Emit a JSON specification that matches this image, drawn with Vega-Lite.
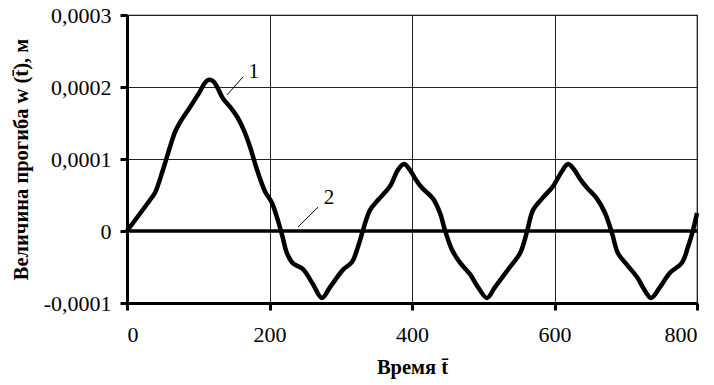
{
  "$schema": "https://vega.github.io/schema/vega-lite/v6.json",
  "width": 570,
  "height": 288,
  "autosize": {"type": "none"},
  "padding": {"left": 127, "top": 15, "right": 17, "bottom": 82},
  "background": "white",
  "config": {
    "view": {"stroke": "#000", "strokeWidth": 1.2},
    "font": "Liberation Serif",
    "text": {"font": "Liberation Serif"},
    "axis": {
      "labelFont": "Liberation Serif",
      "titleFont": "Liberation Serif",
      "labelFontSize": 22,
      "labelColor": "#000",
      "titleColor": "#000",
      "titleFontSize": 20.5,
      "titleFontWeight": "bold",
      "domainColor": "#000",
      "domainWidth": 3,
      "tickColor": "#000",
      "tickWidth": 3,
      "tickSize": 7,
      "gridColor": "#222",
      "gridWidth": 1,
      "gridOpacity": 1
    }
  },
  "datasets": {
    "curve1": [
      {"t": 0, "w": 0},
      {"t": 32.3, "w": 0.000043},
      {"t": 39.3, "w": 0.000053},
      {"t": 50.5, "w": 0.000085},
      {"t": 60.4, "w": 0.000117},
      {"t": 67.4, "w": 0.0001375},
      {"t": 74.4, "w": 0.000151},
      {"t": 88.4, "w": 0.000172},
      {"t": 102.5, "w": 0.000194},
      {"t": 109.5, "w": 0.000206},
      {"t": 115.1, "w": 0.00021},
      {"t": 121, "w": 0.000208},
      {"t": 127, "w": 0.000199},
      {"t": 134.7, "w": 0.000184},
      {"t": 145, "w": 0.000172},
      {"t": 155, "w": 0.000158},
      {"t": 164, "w": 0.00014},
      {"t": 172.6, "w": 0.000117},
      {"t": 182.5, "w": 0.000085},
      {"t": 193.7, "w": 0.000055},
      {"t": 203.5, "w": 0.000039},
      {"t": 210.5, "w": 0.000019},
      {"t": 217.5, "w": -0.000005},
      {"t": 224.6, "w": -0.000031},
      {"t": 233, "w": -0.000045},
      {"t": 247, "w": -0.000053},
      {"t": 261, "w": -0.000074},
      {"t": 273.7, "w": -0.000093},
      {"t": 285, "w": -0.000078},
      {"t": 303, "w": -0.000054},
      {"t": 315.8, "w": -0.000043},
      {"t": 324.2, "w": -0.000022},
      {"t": 331.2, "w": 0.000001},
      {"t": 341, "w": 0.000029},
      {"t": 352.3, "w": 0.000043},
      {"t": 369.1, "w": 0.000062},
      {"t": 380.3, "w": 0.000085},
      {"t": 388.8, "w": 0.000093},
      {"t": 397, "w": 0.000085},
      {"t": 405, "w": 0.000072},
      {"t": 414, "w": 0.00006},
      {"t": 429.5, "w": 0.000045},
      {"t": 439.3, "w": 0.000025},
      {"t": 446.3, "w": 0.000001},
      {"t": 456.1, "w": -0.000026},
      {"t": 467.4, "w": -0.000044},
      {"t": 481.4, "w": -0.00006},
      {"t": 492.6, "w": -0.000078},
      {"t": 505.3, "w": -0.000093},
      {"t": 516.5, "w": -0.000078},
      {"t": 537.5, "w": -0.00005},
      {"t": 551.6, "w": -0.000031},
      {"t": 561.4, "w": -0.000001},
      {"t": 569.8, "w": 0.000029},
      {"t": 582.5, "w": 0.000045},
      {"t": 597.9, "w": 0.000062},
      {"t": 610.5, "w": 0.000083},
      {"t": 619, "w": 0.000093},
      {"t": 627, "w": 0.000086},
      {"t": 636, "w": 0.000072},
      {"t": 645.6, "w": 0.00006},
      {"t": 659.6, "w": 0.000045},
      {"t": 670.9, "w": 0.000025},
      {"t": 680.7, "w": -0.000003},
      {"t": 689.1, "w": -0.000031},
      {"t": 701.8, "w": -0.000047},
      {"t": 715.8, "w": -0.000064},
      {"t": 724, "w": -0.000078},
      {"t": 735.4, "w": -0.000093},
      {"t": 748, "w": -0.000078},
      {"t": 762.1, "w": -0.000058},
      {"t": 778.9, "w": -0.000044},
      {"t": 787.4, "w": -0.000022},
      {"t": 794.4, "w": 0.000001},
      {"t": 800, "w": 0.000025}
    ],
    "curve2": [
      {"t": 0, "w": 0},
      {"t": 800, "w": 0}
    ],
    "leaders": [
      {"t1": 140.4, "w1": 0.000189, "t2": 162.8, "w2": 0.000214},
      {"t1": 240, "w1": 0.0000056, "t2": 268, "w2": 0.000033}
    ],
    "labels": [
      {"t": 178, "w": 0.000221, "label": "1"},
      {"t": 283.5, "w": 0.000046, "label": "2"}
    ]
  },
  "layer": [
    {
      "data": {"name": "curve2"},
      "mark": {"type": "line", "color": "#000", "strokeWidth": 3.5},
      "encoding": {
        "x": {
          "field": "t", "type": "quantitative",
          "scale": {"domain": [0, 800], "nice": false},
          "axis": {
            "values": [0, 200, 400, 600, 800],
            "title": "Время t̄",
            "titlePadding": 12,
            "labelPadding": 14,
            "grid": true,
            "format": "d"
          }
        },
        "y": {
          "field": "w", "type": "quantitative",
          "scale": {"domain": [-0.0001, 0.0003], "nice": false, "zero": false},
          "axis": {
            "values": [-0.0001, 0, 0.0001, 0.0002, 0.0003],
            "title": "Величина прогиба w (t̄), м",
            "titlePadding": 12,
            "labelPadding": 9,
            "grid": true,
            "labelExpr": "datum.value == 0 ? '0' : replace(replace(format(datum.value, '.4f'), '.', ','), '−', '-')"
          }
        }
      }
    },
    {
      "data": {"name": "curve1"},
      "mark": {"type": "line", "color": "#000", "strokeWidth": 4.5, "interpolate": "catmull-rom"},
      "encoding": {
        "x": {"field": "t", "type": "quantitative"},
        "y": {"field": "w", "type": "quantitative"}
      }
    },
    {
      "data": {"name": "leaders"},
      "mark": {"type": "rule", "color": "#000", "strokeWidth": 1},
      "encoding": {
        "x": {"field": "t1", "type": "quantitative"},
        "y": {"field": "w1", "type": "quantitative"},
        "x2": {"field": "t2"},
        "y2": {"field": "w2"}
      }
    },
    {
      "data": {"name": "labels"},
      "mark": {"type": "text", "font": "Liberation Serif", "fontSize": 21, "color": "#000", "baseline": "middle", "align": "center"},
      "encoding": {
        "x": {"field": "t", "type": "quantitative"},
        "y": {"field": "w", "type": "quantitative"},
        "text": {"field": "label"}
      }
    }
  ]
}
